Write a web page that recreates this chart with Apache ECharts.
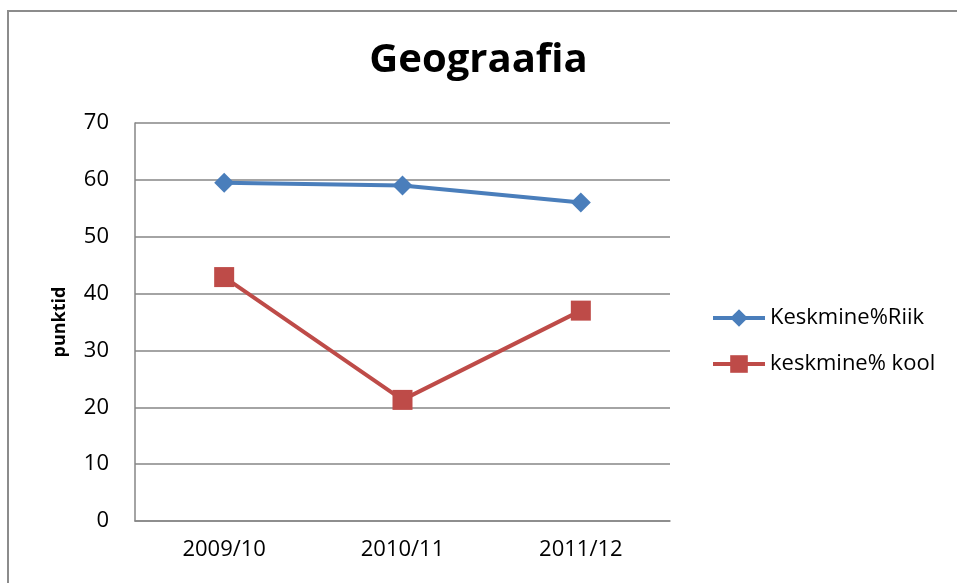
<!DOCTYPE html>
<html>
<head>
<meta charset="utf-8">
<script src="https://cdn.jsdelivr.net/npm/echarts@6/dist/echarts.min.js"></script>
<style>
  html, body { margin: 0; padding: 0; background: #fff; }
  #chart { width: 957px; height: 583px; }
</style>
</head>
<body>
<div id="chart"></div>
<script>
// andmed
const categories = ['2009/10', '2010/11', '2011/12'];
const riik = [59.5, 59.0, 56.0];   // Keskmine%Riik
const kool = [42.9, 21.3, 37.0];   // keskmine% kool
const yTicks = { min: 0, max: 70, interval: 10 };

const font = '"Open Sans", "Noto Sans", sans-serif';
const chart = echarts.init(document.getElementById('chart'));

chart.setOption({
  backgroundColor: '#fff',
  animation: false,
  textStyle: { fontFamily: font },
  graphic: [
    {
      type: 'rect',
      shape: { x: 8, y: 11, width: 1000, height: 700 },
      style: { fill: 'none', stroke: '#8c8c8c', lineWidth: 2 }
    }
  ],
  title: {
    text: 'Geograafia',
    left: 'center',
    top: 36,
    textStyle: { fontFamily: font, fontSize: 40, fontWeight: 'bold', color: '#000' }
  },
  legend: {
    orient: 'vertical',
    left: 706,
    top: 302,
    itemWidth: 52,
    itemHeight: 22,
    itemGap: 24,
    lineStyle: { width: 4 },
    textStyle: { fontFamily: font, fontSize: 22, color: '#000' },
    data: ['Keskmine%Riik', 'keskmine% kool']
  },
  grid: { left: 135, top: 123, width: 535, height: 398, containLabel: false },
  xAxis: {
    type: 'category',
    data: categories,
    boundaryGap: true,
    axisLine: { lineStyle: { color: '#868686', width: 1.5 } },
    axisTick: { show: false },
    axisLabel: { color: '#000', fontSize: 22, margin: 18, fontFamily: font }
  },
  yAxis: {
    type: 'value',
    min: yTicks.min,
    max: yTicks.max,
    interval: yTicks.interval,
    name: 'punktid',
    nameLocation: 'middle',
    nameGap: 66,
    nameTextStyle: { fontSize: 18, fontWeight: 'bold', color: '#000', fontFamily: font },
    axisLine: { show: true, lineStyle: { color: '#868686', width: 1.5 } },
    axisTick: { show: false },
    axisLabel: { color: '#000', fontSize: 22, margin: 26, fontFamily: font },
    splitLine: { lineStyle: { color: '#868686', width: 1.5 } }
  },
  series: [
    {
      name: 'Keskmine%Riik',
      type: 'line',
      data: riik,
      symbol: 'diamond',
      symbolSize: 20,
      itemStyle: { color: '#4a7ebb' },
      lineStyle: { color: '#4a7ebb', width: 4 }
    },
    {
      name: 'keskmine% kool',
      type: 'line',
      data: kool,
      symbol: 'rect',
      symbolSize: 20,
      itemStyle: { color: '#be4b48' },
      lineStyle: { color: '#be4b48', width: 4 }
    }
  ]
});
</script>
</body>
</html>
